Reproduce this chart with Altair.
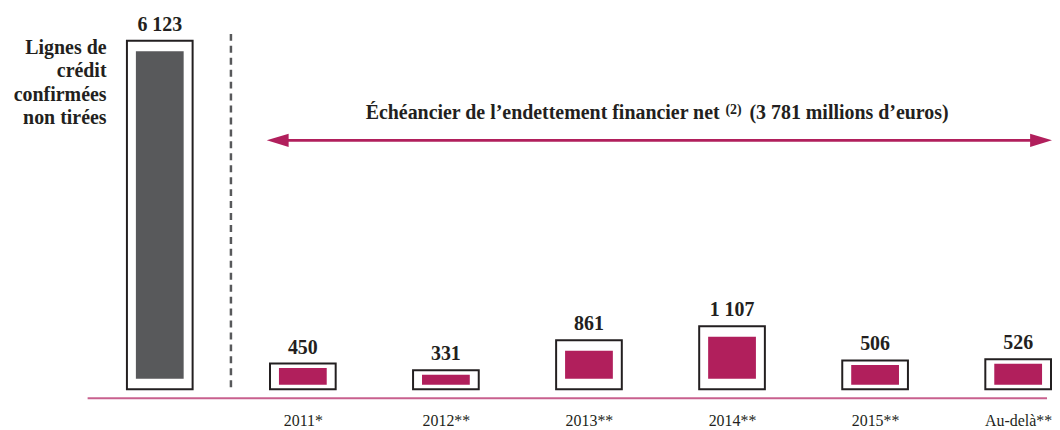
import altair as alt
import pandas as pd

# ---- data ----
categories = ["Lignes de crédit confirmées non tirées", "2011*", "2012**", "2013**",
              "2014**", "2015**", "Au-delà**"]
values = [6123, 450, 331, 861, 1107, 506, 526]
value_labels = ["6 123", "450", "331", "861", "1 107", "506", "526"]
groups = ["Lignes de crédit", "Échéancier", "Échéancier", "Échéancier",
          "Échéancier", "Échéancier", "Échéancier"]
axis_labels = categories[1:]
left_label = ["Lignes de", "crédit", "confirmées", "non tirées"]
title_main = "Échéancier de l’endettement financier net"
title_note = "(2)"
title_tail = "(3 781 millions d’euros)"

df = pd.DataFrame({"cat": categories, "value": values, "label": value_labels, "group": groups})

FONT = "Liberation Serif"
INK = "#231f20"
GREY = "#58595b"
MAGENTA = "#b11f5c"
PINK = "#c8608e"

W, H = 1044, 391

xenc = alt.X(
    "cat:N",
    sort=categories,
    scale=alt.Scale(type="point", domain=categories, range=[152.5, 1015], padding=0),
    axis=alt.Axis(values=axis_labels, title=None, domain=False, ticks=False, tickSize=0,
                  grid=False, labelPadding=27, labelBaseline="alphabetic", labelAngle=0,
                  labelFont=FONT, labelFontSize=16, labelColor=INK),
)
yscale = alt.Scale(domain=[-157.45, 6682.8], nice=False, zero=False)

base = alt.Chart(df)

outer = base.mark_bar(size=66, fill="white", stroke=INK, strokeWidth=2).encode(
    x=xenc,
    y=alt.Y("value:Q", scale=yscale, axis=None),
    y2=alt.datum(0),
)

inner = base.transform_calculate(
    inset="datum.value > 700 ? 184 : 79",
    top="datum.value - datum.inset",
).mark_bar(size=48).encode(
    x=xenc,
    y=alt.Y("top:Q", scale=yscale, axis=None),
    y2="inset:Q",
    color=alt.Color("group:N", scale=alt.Scale(domain=["Lignes de crédit", "Échéancier"],
                                               range=[GREY, MAGENTA]), legend=None),
)

labels = base.mark_text(font=FONT, fontSize=20, fontWeight="bold", color=INK,
                        baseline="alphabetic", align="center", dy=-10).encode(
    x=xenc,
    y=alt.Y("value:Q", scale=yscale, axis=None),
    text="label:N",
)

one = pd.DataFrame({"d": [0]})

dashed = alt.Chart(one).mark_rule(color=GREY, strokeWidth=2.5, strokeDash=[7, 5]).encode(
    x=alt.value(224), y=alt.value(25), y2=alt.value(382))

baseline = alt.Chart(one).mark_rule(color=PINK, strokeWidth=2).encode(
    x=alt.value(80), x2=alt.value(W), y=alt.value(391))

arrow = alt.Chart(one).mark_rule(color=MAGENTA, strokeWidth=3).encode(
    x=alt.value(275), x2=alt.value(1034), y=alt.value(132))
head_l = alt.Chart(one).mark_point(shape="M-1,0L1,-0.6L1,0.6Z", size=484, filled=True,
                                   color=MAGENTA, opacity=1, strokeWidth=0).encode(
    x=alt.value(271), y=alt.value(132))
head_r = alt.Chart(one).mark_point(shape="M1,0L-1,-0.6L-1,0.6Z", size=484, filled=True,
                                   color=MAGENTA, opacity=1, strokeWidth=0).encode(
    x=alt.value(1038), y=alt.value(132))

t_main = alt.Chart(pd.DataFrame({"t": [title_main]})).mark_text(
    font=FONT, fontSize=20, fontWeight="bold", color=INK, align="right",
    baseline="alphabetic").encode(x=alt.value(715), y=alt.value(111), text="t:N")
t_note = alt.Chart(pd.DataFrame({"t": [title_note]})).mark_text(
    font=FONT, fontSize=14, fontWeight="bold", color=INK, align="center",
    baseline="alphabetic").encode(x=alt.value(729), y=alt.value(106), text="t:N")
t_tail = alt.Chart(pd.DataFrame({"t": [title_tail]})).mark_text(
    font=FONT, fontSize=20, fontWeight="bold", color=INK, align="left",
    baseline="alphabetic").encode(x=alt.value(745), y=alt.value(111), text="t:N")

left = alt.Chart(one).mark_text(
    text=left_label, font=FONT, fontSize=20, fontWeight="bold", color=INK,
    align="right", baseline="alphabetic", lineHeight=23.5).encode(
    x=alt.value(99), y=alt.value(45))

chart = alt.layer(
    baseline, dashed, outer, inner, labels, arrow, head_l, head_r,
    t_main, t_note, t_tail, left,
).properties(width=W, height=H, padding=0, background="white").configure(
    font=FONT, view=alt.ViewConfig(strokeWidth=0))

chart.save("out.html", embed_options={"renderer": "svg", "actions": False})
